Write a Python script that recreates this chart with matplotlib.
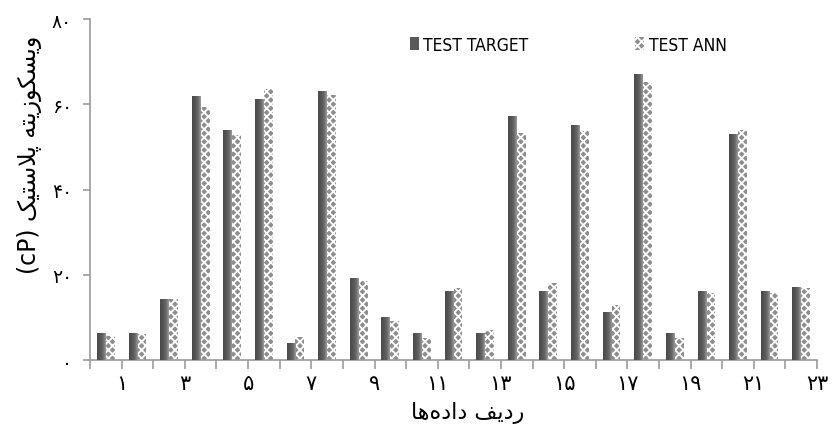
import numpy as np
import matplotlib
matplotlib.use("Agg")
import matplotlib.pyplot as plt
from matplotlib.colors import LinearSegmentedColormap

# data (cP), rows 1..23 left to right
rows = list(range(1, 24))
test_target = [6.3, 6.3, 14.3, 62.0, 54.0, 61.2, 4.1, 63.1, 19.2, 10.2, 6.3, 16.3,
               6.3, 57.2, 16.3, 55.1, 11.2, 67.1, 6.3, 16.3, 53.1, 16.3, 17.2]
test_ann = [5.6, 6.1, 14.3, 59.3, 52.9, 63.6, 5.3, 62.2, 18.6, 9.1, 5.1, 17.0,
            7.0, 53.3, 18.0, 53.7, 12.9, 65.3, 5.1, 15.7, 54.0, 15.7, 17.0]
xtick_rows = list(range(1, 24, 2))
ytick_vals = [0, 20, 40, 60, 80]

# persian digits
fa_digits = str.maketrans("0123456789", "۰۱۲۳۴۵۶۷۸۹")

# minimal arabic-script shaper (matplotlib has no text shaping)
# char: (isolated, final, initial, medial)
forms = {
    "ا": ("\uFE8D", "\uFE8E", None, None),
    "د": ("\uFEA9", "\uFEAA", None, None),
    "ر": ("\uFEAD", "\uFEAE", None, None),
    "ز": ("\uFEAF", "\uFEB0", None, None),
    "و": ("\uFEED", "\uFEEE", None, None),
    "ت": ("\uFE95", "\uFE96", "\uFE97", "\uFE98"),
    "س": ("\uFEB1", "\uFEB2", "\uFEB3", "\uFEB4"),
    "ف": ("\uFED1", "\uFED2", "\uFED3", "\uFED4"),
    "ل": ("\uFEDD", "\uFEDE", "\uFEDF", "\uFEE0"),
    "ه": ("\uFEE9", "\uFEEA", "\uFEEB", "\uFEEC"),
    "پ": ("\uFB56", "\uFB57", "\uFB58", "\uFB59"),
    "ک": ("\uFB8E", "\uFB8F", "\uFB90", "\uFB91"),
    "ی": ("\uFBFC", "\uFBFD", "\uFBFE", "\uFBFF"),
}


def shape(text):
    out = []
    i = 0
    n = len(text)
    while i < n:
        ch = text[i]
        if ch not in forms:
            if ch != "\u200c":
                out.append(ch)
            i += 1
            continue
        prev = text[i - 1] if i > 0 else ""
        joins_prev = prev in forms and forms[prev][2] is not None
        # lam-alef ligature
        if ch == "ل" and i + 1 < n and text[i + 1] == "ا":
            out.append("\uFEFC" if joins_prev else "\uFEFB")
            i += 2
            continue
        nxt = text[i + 1] if i + 1 < n else ""
        joins_next = forms[ch][2] is not None and nxt in forms
        iso, fin, ini, med = forms[ch]
        if joins_prev and joins_next:
            out.append(med)
        elif joins_prev:
            out.append(fin)
        elif joins_next:
            out.append(ini)
        else:
            out.append(iso)
        i += 1
    return "".join(reversed(out))


ylabel_txt = "(cP) " + shape("ویسکوزیته پلاستیک")
xlabel_txt = shape("ردیف داده\u200cها")

plt.rcParams["font.family"] = ["DejaVu Sans"]
plt.rcParams["hatch.linewidth"] = 1.3

fig = plt.figure(figsize=(8.32, 4.35), dpi=100)
ax = fig.add_axes([0.1082, 0.1701, 0.8738, 0.7839])

x = np.array(rows)
w = 0.28
bars_t = ax.bar(x - w / 2, test_target, width=w, color="#5a5a5a", linewidth=0,
                label="TEST TARGET", zorder=2)
bars_a = ax.bar(x + w / 2, test_ann, width=w, color="#8e8e8e", edgecolor="white",
                linewidth=0, hatch="xxxx", label="TEST ANN", zorder=2)

# shaded look of the dark bars
grad = LinearSegmentedColormap.from_list("g", ["#4a4a4a", "#555555", "#666666", "#9a9a9a"])
g = np.linspace(0, 1, 32).reshape(1, -1)
for p in bars_t:
    x0, y0 = p.get_x(), p.get_y()
    im = ax.imshow(g, cmap=grad, aspect="auto", zorder=3,
                   extent=[x0, x0 + p.get_width(), y0, y0 + p.get_height()])
    im.set_clip_path(p)

ax.set_xlim(0.5, 23.5)
ax.set_ylim(0, 80)

for s in ["top", "right"]:
    ax.spines[s].set_visible(False)
for s in ["left", "bottom"]:
    ax.spines[s].set_color("#9a9a9a")
    ax.spines[s].set_linewidth(1.2)

ax.set_yticks(ytick_vals)
ax.set_yticklabels([str(v).translate(fa_digits) for v in ytick_vals], fontsize=13.5)
ax.tick_params(axis="y", length=5, width=1.2, color="#9a9a9a", pad=8)

ax.set_xticks(np.arange(0.5, 24, 1.0))
ax.set_xticklabels([])
ax.tick_params(axis="x", length=6.5, width=1.2, color="#9a9a9a")
for r in xtick_rows:
    ax.text(r + 0.5, -3.0, str(r).translate(fa_digits), ha="center", va="top",
            fontsize=15, transform=ax.transData)

fig.text(0.036, 0.645, ylabel_txt, rotation=90, ha="center", va="center", fontsize=17)
fig.text(0.562, 0.05, xlabel_txt, ha="center", va="center", fontsize=16)

leg = ax.legend(loc="upper left", bbox_to_anchor=(0.43, 0.972), ncol=2, frameon=False,
                prop={"family": "DejaVu Sans", "stretch": "condensed", "size": 12.5},
                handlelength=0.55, handleheight=0.85, handletextpad=0.25,
                columnspacing=6.1, borderaxespad=0)

fig.savefig("out.png", dpi=100)
